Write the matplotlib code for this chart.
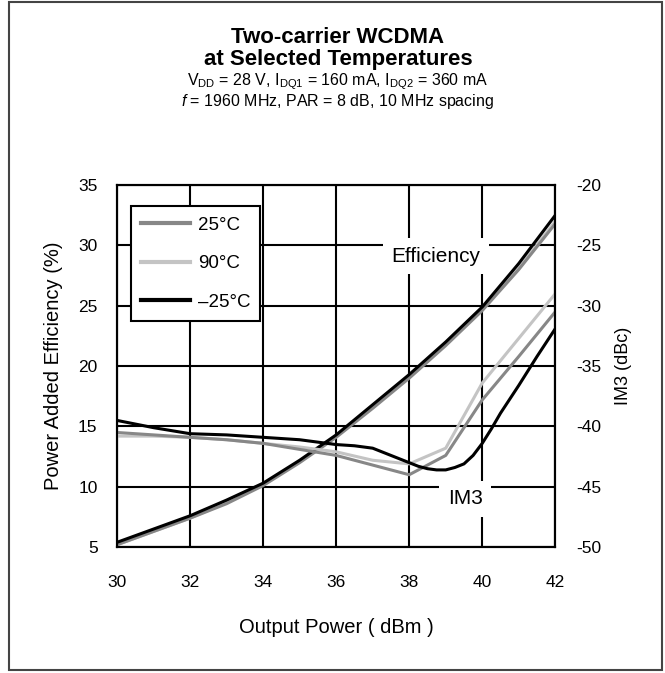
import numpy as np
import matplotlib
matplotlib.use("Agg")
import matplotlib.pyplot as plt
from matplotlib.patches import Rectangle

plt.rcParams['font.family'] = ['Liberation Sans', 'DejaVu Sans']
plt.rcParams['mathtext.fontset'] = 'custom'
plt.rcParams['mathtext.rm'] = 'Liberation Sans'
plt.rcParams['mathtext.it'] = 'Liberation Sans:italic'
plt.rcParams['axes.unicode_minus'] = False

# output power (dBm)
pout = [30, 31, 32, 33, 34, 35, 36, 37, 38, 39, 40, 41, 42]

# power added efficiency (%)
eff_25 = [5.2, 6.3, 7.4, 8.6, 10.1, 12.0, 14.1, 16.5, 19.0, 21.7, 24.6, 28.0, 31.8]
eff_90 = [5.2, 6.3, 7.4, 8.7, 10.2, 12.1, 14.2, 16.6, 19.1, 21.8, 24.7, 28.1, 32.0]
eff_m25 = [5.4, 6.5, 7.6, 8.9, 10.3, 12.2, 14.3, 16.8, 19.3, 22.0, 24.9, 28.5, 32.5]

# IM3 (dBc)
im3_25 = [-40.5, -40.7, -40.9, -41.1, -41.4, -41.9, -42.4, -43.2, -44.0, -42.4, -37.8, -34.2, -30.5]
im3_90 = [-40.8, -40.8, -40.9, -41.1, -41.4, -41.7, -42.1, -42.8, -43.1, -41.8, -36.4, -32.7, -29.0]
pout_fine = [30, 31, 32, 33, 34, 35, 36, 36.5, 37, 37.5, 38, 38.25, 38.5, 38.75, 39, 39.25,
             39.5, 39.75, 40, 40.25, 40.5, 41, 41.5, 42]
im3_m25 = [-39.5, -40.1, -40.6, -40.7, -40.9, -41.1, -41.5, -41.6, -41.8, -42.4, -43.0, -43.3,
           -43.5, -43.6, -43.6, -43.4, -43.1, -42.4, -41.4, -40.2, -38.9, -36.6, -34.2, -31.9]

labels = ['25°C', '90°C', '–25°C']
colors = ['#878787', '#c4c4c4', '#000000']

fig = plt.figure(figsize=(6.65, 6.73), dpi=100)
fig.patches.append(Rectangle((0.014, 0.004), 0.981, 0.993, transform=fig.transFigure,
                             fill=False, edgecolor='#444444', linewidth=1.5))

ax = fig.add_axes([0.176, 0.187, 0.659, 0.538])
ax2 = ax.twinx()

lw = 2.2
ax.plot(pout, eff_90, color=colors[1], lw=lw)
ax.plot(pout, eff_25, color=colors[0], lw=lw)
ax.plot(pout, eff_m25, color=colors[2], lw=lw)
ax2.plot(pout, im3_90, color=colors[1], lw=lw)
ax2.plot(pout, im3_25, color=colors[0], lw=lw)
ax2.plot(pout_fine, im3_m25, color=colors[2], lw=lw)

ax.set_xlim(30, 42)
ax.set_ylim(5, 35)
ax2.set_ylim(-50, -20)
ax.set_xticks(np.arange(30, 43, 2))
ax.set_yticks(np.arange(5, 36, 5))
ax2.set_yticks(np.arange(-50, -19, 5))
ax.grid(True, color='black', lw=1.5)
ax.tick_params(axis='x', length=0, labelsize=12.5, pad=20)
ax.tick_params(axis='y', length=0, labelsize=12.5, pad=14)
ax2.tick_params(length=0, labelsize=12.5, pad=15)
for a in (ax, ax2):
    for s in a.spines.values():
        s.set_linewidth(1.5)

ax.set_xlabel('Output Power ( dBm )', fontsize=14.5, labelpad=20)
ax.set_ylabel('Power Added Efficiency (%)', fontsize=14.5, labelpad=11)
ax2.set_ylabel('IM3 (dBc)', fontsize=13, labelpad=10)

# legend
handles = [plt.Line2D([], [], color=c, lw=3) for c in colors]
leg = ax.legend(handles, labels, loc='upper left', bbox_to_anchor=(0.032, 0.942),
                fontsize=13.5, frameon=True, fancybox=False, edgecolor='black',
                handlelength=2.6, handletextpad=0.4, labelspacing=1.15, borderpad=0.55,
                borderaxespad=0)
leg.get_frame().set_linewidth(1.5)
leg.get_frame().set_alpha(1)

bbox = dict(facecolor='white', edgecolor='none', pad=6)
ax.text(38.74, 29.1, 'Efficiency', fontsize=15, ha='center', va='center', bbox=bbox)
ax.text(39.53, 9.0, 'IM3', fontsize=15, ha='center', va='center', bbox=bbox)

fig.text(0.508, 0.945, 'Two-carrier WCDMA', fontsize=16, fontweight='bold', ha='center', va='center')
fig.text(0.508, 0.911, 'at Selected Temperatures', fontsize=16, fontweight='bold', ha='center', va='center')
fig.text(0.508, 0.879, r'V$_{\mathrm{DD}}$ = 28 V, I$_{\mathrm{DQ1}}$ = 160 mA, I$_{\mathrm{DQ2}}$ = 360 mA',
         fontsize=11.5, ha='center', va='center')
fig.text(0.508, 0.849, r'$f$ = 1960 MHz, PAR = 8 dB, 10 MHz spacing', fontsize=11.5, ha='center', va='center')

fig.savefig('out.png', dpi=100)
